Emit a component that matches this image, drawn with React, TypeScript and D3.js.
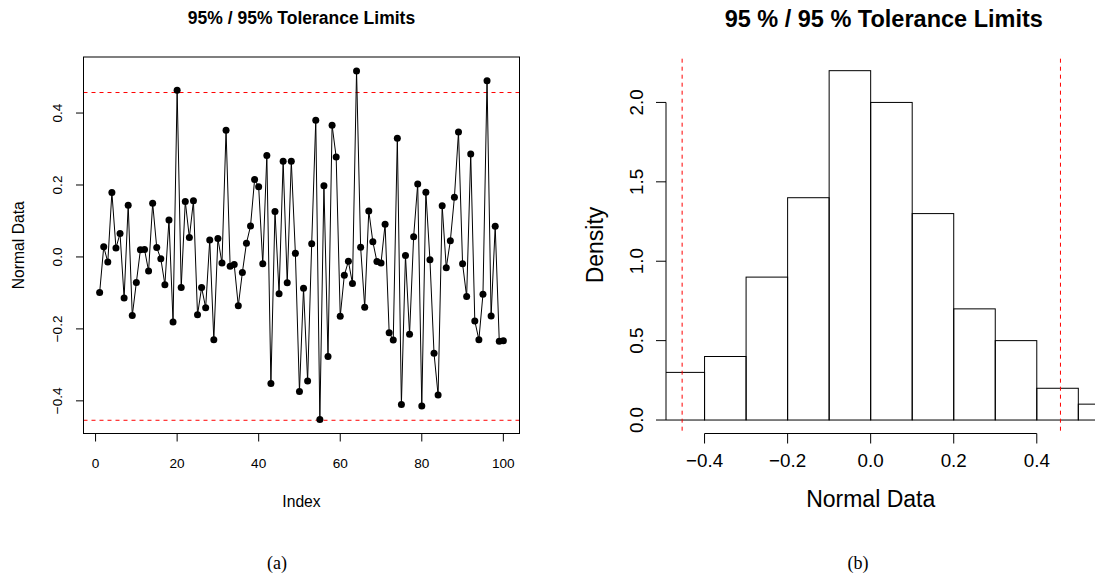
import React from "react";
import * as d3 from "d3";

// Series of 100 normal observations, in index order
const normalData: number[] = [
  -0.099, 0.028, -0.014, 0.179, 0.025, 0.065, -0.114, 0.144, -0.163, -0.071,
  0.020, 0.021, -0.039, 0.149, 0.026, -0.005, -0.077, 0.103, -0.181, 0.463,
  -0.085, 0.154, 0.054, 0.156, -0.161, -0.085, -0.141, 0.047, -0.230, 0.051,
  -0.017, 0.352, -0.026, -0.021, -0.136, -0.043, 0.038, 0.086, 0.215, 0.195,
  -0.019, 0.282, -0.352, 0.126, -0.102, 0.266, -0.072, 0.266, 0.010, -0.374,
  -0.087, -0.345, 0.037, 0.380, -0.452, 0.198, -0.277, 0.366, 0.278, -0.165,
  -0.051, -0.012, -0.074, 0.517, 0.027, -0.140, 0.128, 0.042, -0.013, -0.017,
  0.091, -0.211, -0.231, 0.330, -0.410, 0.004, -0.215, 0.056, 0.203, -0.414,
  0.180, -0.008, -0.268, -0.384, 0.142, -0.030, 0.045, 0.166, 0.347, -0.019,
  -0.110, 0.286, -0.178, -0.230, -0.104, 0.490, -0.164, 0.085, -0.234, -0.233,
];

// Lower / upper 95%/95% tolerance limits
const toleranceLimits: number[] = [-0.454, 0.457];

// Histogram bins (density scale)
const histBreaks: number[] = [-0.5, -0.4, -0.3, -0.2, -0.1, 0.0, 0.1, 0.2, 0.3, 0.4, 0.5, 0.6];
const histDensity: number[] = [0.3, 0.4, 0.9, 1.4, 2.2, 2.0, 1.3, 0.7, 0.5, 0.2, 0.1];

// Axis ticks
const indexTicks: number[] = [0, 20, 40, 60, 80, 100];
const dataTicks: number[] = [-0.4, -0.2, 0.0, 0.2, 0.4];
const histXTicks: number[] = [-0.4, -0.2, 0.0, 0.2, 0.4];
const densityTicks: number[] = [0.0, 0.5, 1.0, 1.5, 2.0];

const W = 1095;
const H = 575;
const SANS = "'Liberation Sans', Arial, Helvetica, sans-serif";
const SERIF = "'Liberation Serif', 'DejaVu Serif', serif";

const fmt1 = (v: number) => {
  const s = Math.abs(v).toFixed(1);
  return v < -1e-9 ? "\u2212" + s : s;
};

// R-style 4% axis expansion
const padExtent = (lo: number, hi: number): [number, number] => {
  const p = (hi - lo) * 0.04;
  return [lo - p, hi + p];
};

function IndexPlot() {
  const box = { left: 83.5, right: 519.5, top: 57, bottom: 433.5 };
  const n = normalData.length;
  const x = d3.scaleLinear().domain(padExtent(1, n)).range([box.left, box.right]);
  const [mn, mx] = d3.extent(normalData) as [number, number];
  const y = d3.scaleLinear().domain(padExtent(mn, mx)).range([box.bottom, box.top]);
  const line = d3
    .line<number>()
    .x((_, i) => x(i + 1))
    .y((d) => y(d));
  const cx = (box.left + box.right) / 2;
  const cy = (box.top + box.bottom) / 2;
  return (
    <g>
      <text x={cx} y={24} textAnchor="middle" fontFamily={SANS} fontWeight="bold" fontSize={17.5}>
        95% / 95% Tolerance Limits
      </text>
      {toleranceLimits.map((t, i) => (
        <line key={i} x1={box.left} x2={box.right} y1={y(t)} y2={y(t)} stroke="#ff0000" strokeWidth={1} strokeDasharray="4,4" />
      ))}
      <path d={line(normalData) ?? ""} fill="none" stroke="#000" strokeWidth={1} />
      {normalData.map((d, i) => (
        <circle key={i} cx={x(i + 1)} cy={y(d)} r={3.5} fill="#000" />
      ))}
      <rect x={box.left} y={box.top} width={box.right - box.left} height={box.bottom - box.top} fill="none" stroke="#000" strokeWidth={1} />
      {/* x axis */}
      {indexTicks.map((t) => (
        <g key={t}>
          <line x1={x(t)} x2={x(t)} y1={box.bottom} y2={box.bottom + 8} stroke="#000" />
          <text x={x(t)} y={468} textAnchor="middle" fontFamily={SANS} fontSize={13.6}>
            {t}
          </text>
        </g>
      ))}
      {/* y axis */}
      {dataTicks.map((t) => (
        <g key={t}>
          <line x1={box.left - 7.5} x2={box.left} y1={y(t)} y2={y(t)} stroke="#000" />
          <text transform={`translate(61.5,${y(t)}) rotate(-90)`} textAnchor="middle" fontFamily={SANS} fontSize={13.6}>
            {fmt1(t)}
          </text>
        </g>
      ))}
      <text x={cx} y={507} textAnchor="middle" fontFamily={SANS} fontSize={15.7}>
        Index
      </text>
      <text transform={`translate(24,${cy}) rotate(-90)`} textAnchor="middle" fontFamily={SANS} fontSize={15.7}>
        Normal Data
      </text>
      <text x={277} y={569} textAnchor="middle" fontFamily={SERIF} fontSize={18}>
        (a)
      </text>
    </g>
  );
}

function HistPlot() {
  const box = { left: 666, right: 1101.5, top: 56.7, bottom: 434 };
  const [mn, mx] = d3.extent([...normalData, ...toleranceLimits]) as [number, number];
  const x = d3.scaleLinear().domain(padExtent(mn, mx)).range([box.left, box.right]);
  const y = d3
    .scaleLinear()
    .domain(padExtent(0, d3.max(histDensity) as number))
    .range([box.bottom, box.top]);
  const cx = (box.left + box.right) / 2;
  const axisY = 433.5;
  return (
    <g>
      <defs>
        <clipPath id="hist-clip">
          <rect x={box.left} y={box.top} width={box.right - box.left} height={box.bottom - box.top} />
        </clipPath>
      </defs>
      <text x={cx} y={26.5} textAnchor="middle" fontFamily={SANS} fontWeight="bold" fontSize={23.5}>
        95 % / 95 % Tolerance Limits
      </text>
      <g clipPath="url(#hist-clip)">
        {histDensity.map((d, i) => (
          <rect
            key={i}
            x={x(histBreaks[i])}
            y={y(d)}
            width={x(histBreaks[i + 1]) - x(histBreaks[i])}
            height={y(0) - y(d)}
            fill="none"
            stroke="#000"
            strokeWidth={1}
          />
        ))}
      </g>
      {toleranceLimits.map((t, i) => (
        <line key={i} x1={x(t)} x2={x(t)} y1={box.top + 2} y2={box.bottom} stroke="#ff0000" strokeWidth={1} strokeDasharray="4,4" />
      ))}
      {/* x axis */}
      <line x1={x(histXTicks[0])} x2={x(histXTicks[histXTicks.length - 1])} y1={axisY} y2={axisY} stroke="#000" />
      {histXTicks.map((t) => (
        <g key={t}>
          <line x1={x(t)} x2={x(t)} y1={axisY} y2={axisY + 10} stroke="#000" />
          <text x={x(t)} y={467.3} textAnchor="middle" fontFamily={SANS} fontSize={18.8}>
            {fmt1(t)}
          </text>
        </g>
      ))}
      {/* y axis */}
      <line x1={box.left} x2={box.left} y1={y(densityTicks[0])} y2={y(densityTicks[densityTicks.length - 1])} stroke="#000" />
      {densityTicks.map((t) => (
        <g key={t}>
          <line x1={box.left - 10} x2={box.left} y1={y(t)} y2={y(t)} stroke="#000" />
          <text transform={`translate(643,${y(t)}) rotate(-90)`} textAnchor="middle" fontFamily={SANS} fontSize={18.8}>
            {t.toFixed(1)}
          </text>
        </g>
      ))}
      <text x={870.7} y={506.5} textAnchor="middle" fontFamily={SANS} fontSize={23}>
        Normal Data
      </text>
      <text transform={`translate(603,245) rotate(-90)`} textAnchor="middle" fontFamily={SANS} fontSize={23}>
        Density
      </text>
      <text x={858} y={569} textAnchor="middle" fontFamily={SERIF} fontSize={18}>
        (b)
      </text>
    </g>
  );
}

export default function App() {
  return (
    <svg
      width={W}
      height={H}
      viewBox={`0 0 ${W} ${H}`}
      style={{ position: "absolute", left: 0, top: 0, display: "block", background: "#fff" }}
    >
      <rect x={0} y={0} width={W} height={H} fill="#fff" />
      <IndexPlot />
      <HistPlot />
    </svg>
  );
}
